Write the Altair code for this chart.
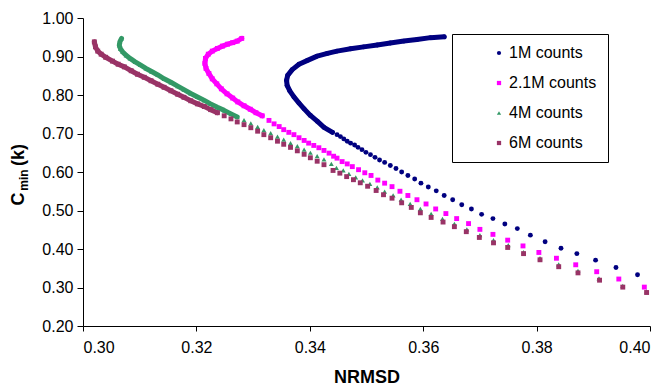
import altair as alt
import pandas as pd

SERIES = ["1M counts", "2.1M counts", "4M counts", "6M counts"]
COLORS = ["#000080", "#FF00FF", "#339966", "#993366"]
SHAPES = ["circle", "square", "triangle-up", "square"]

# 1M counts: dense (continuous-looking) arc, then separated dots
m1_arc_x = [0.3637, 0.3613, 0.3589, 0.3566, 0.3542, 0.3519, 0.3495, 0.3472, 0.3448, 0.3431,
            0.3413, 0.3396, 0.3381, 0.3369, 0.3361, 0.3359, 0.3360, 0.3365, 0.3372, 0.3381,
            0.3390, 0.3401, 0.3413, 0.3425, 0.3440]
m1_arc_y = [0.951, 0.949, 0.944, 0.940, 0.935, 0.930, 0.925, 0.920, 0.914, 0.908,
            0.901, 0.890, 0.880, 0.866, 0.851, 0.838, 0.825, 0.810, 0.795, 0.779,
            0.764, 0.747, 0.732, 0.716, 0.703]
m1_dot_x = [0.3448, 0.3454, 0.3460, 0.3466, 0.3472, 0.3479, 0.3485, 0.3492, 0.3499, 0.3507,
            0.3515, 0.3523, 0.3532, 0.3542, 0.3552, 0.3562, 0.3573, 0.3585, 0.3596, 0.3609,
            0.3623, 0.3637, 0.3652, 0.3668, 0.3685, 0.3703, 0.3723, 0.3744, 0.3766, 0.3789,
            0.3815, 0.3843, 0.3871, 0.3904, 0.3940, 0.3978]
m1_dot_y = [0.697, 0.692, 0.686, 0.680, 0.675, 0.670, 0.664, 0.658, 0.651, 0.645,
            0.638, 0.631, 0.625, 0.617, 0.609, 0.600, 0.591, 0.582, 0.571, 0.561,
            0.551, 0.539, 0.528, 0.515, 0.504, 0.490, 0.479, 0.465, 0.453, 0.436,
            0.419, 0.402, 0.388, 0.371, 0.352, 0.333]

# 2.1M counts
m21_arc_x = [0.3280, 0.3272, 0.3264, 0.3255, 0.3246, 0.3237, 0.3228, 0.3221, 0.3216, 0.3215,
             0.3217, 0.3222, 0.3228, 0.3236, 0.3244, 0.3254, 0.3264, 0.3273, 0.3284, 0.3295,
             0.3305, 0.3316]
m21_arc_y = [0.947, 0.940, 0.936, 0.932, 0.927, 0.921, 0.914, 0.906, 0.895, 0.882,
             0.869, 0.856, 0.842, 0.829, 0.816, 0.803, 0.792, 0.782, 0.772, 0.763,
             0.754, 0.746]
m21_dot_x = [0.3328, 0.3337, 0.3346, 0.3354, 0.3363, 0.3372, 0.3381, 0.3390, 0.3398, 0.3407,
             0.3416, 0.3425, 0.3434, 0.3442, 0.3448, 0.3457, 0.3466, 0.3475, 0.3486, 0.3497,
             0.3508, 0.3520, 0.3532, 0.3545, 0.3559, 0.3573, 0.3589, 0.3605, 0.3622, 0.3640,
             0.3659, 0.3680, 0.3700, 0.3723, 0.3749, 0.3776, 0.3804, 0.3835, 0.3869, 0.3906,
             0.3945, 0.3990]
m21_dot_y = [0.734, 0.725, 0.718, 0.710, 0.703, 0.697, 0.689, 0.682, 0.675, 0.669,
             0.663, 0.656, 0.649, 0.641, 0.636, 0.627, 0.621, 0.614, 0.606, 0.598,
             0.591, 0.579, 0.571, 0.562, 0.550, 0.539, 0.528, 0.517, 0.504, 0.492,
             0.479, 0.466, 0.451, 0.438, 0.423, 0.408, 0.391, 0.376, 0.359, 0.341,
             0.322, 0.301]

# 4M counts
m4_arc_x = [0.3068, 0.3065, 0.3064, 0.3066, 0.3070, 0.3076, 0.3083, 0.3092, 0.3101, 0.3111,
            0.3121, 0.3132, 0.3143, 0.3155, 0.3167, 0.3178, 0.3190, 0.3202, 0.3214, 0.3225,
            0.3237, 0.3249, 0.3261, 0.3272]
m4_arc_y = [0.947, 0.938, 0.929, 0.920, 0.912, 0.903, 0.895, 0.886, 0.878, 0.869,
            0.861, 0.852, 0.842, 0.833, 0.823, 0.814, 0.804, 0.795, 0.786, 0.777,
            0.768, 0.760, 0.751, 0.743]
m4_dot_x = [0.3284, 0.3296, 0.3308, 0.3319, 0.3331, 0.3343, 0.3354, 0.3366, 0.3378, 0.3390,
            0.3401, 0.3413, 0.3425, 0.3438, 0.3447, 0.3459, 0.3469, 0.3481, 0.3493, 0.3506,
            0.3519, 0.3532, 0.3547, 0.3561, 0.3577, 0.3595, 0.3614, 0.3634, 0.3655, 0.3677,
            0.3700, 0.3724, 0.3750, 0.3777, 0.3806, 0.3839, 0.3873, 0.3910, 0.3952, 0.3994]
m4_dot_y = [0.735, 0.726, 0.717, 0.709, 0.701, 0.692, 0.684, 0.675, 0.667, 0.658,
            0.650, 0.641, 0.633, 0.621, 0.611, 0.604, 0.595, 0.586, 0.578, 0.569,
            0.560, 0.549, 0.539, 0.528, 0.517, 0.504, 0.491, 0.478, 0.465, 0.451,
            0.436, 0.423, 0.410, 0.392, 0.376, 0.360, 0.343, 0.324, 0.304, 0.290]

# 6M counts
m6_arc_x = [0.3020, 0.3022, 0.3026, 0.3032, 0.3040, 0.3052, 0.3062, 0.3073, 0.3085, 0.3096,
            0.3108, 0.3120, 0.3132, 0.3143, 0.3155, 0.3167, 0.3178, 0.3190, 0.3202, 0.3214,
            0.3225, 0.3237]
m6_arc_y = [0.938, 0.925, 0.914, 0.906, 0.898, 0.888, 0.880, 0.873, 0.863, 0.854,
            0.846, 0.837, 0.828, 0.820, 0.811, 0.802, 0.794, 0.785, 0.777, 0.770,
            0.762, 0.754]
m6_dot_x = [0.3249, 0.3261, 0.3272, 0.3284, 0.3296, 0.3308, 0.3319, 0.3331, 0.3343, 0.3354,
            0.3366, 0.3378, 0.3390, 0.3401, 0.3413, 0.3425, 0.3441, 0.3453, 0.3465, 0.3477,
            0.3489, 0.3502, 0.3517, 0.3530, 0.3545, 0.3562, 0.3579, 0.3595, 0.3614, 0.3635,
            0.3655, 0.3676, 0.3699, 0.3724, 0.3749, 0.3777, 0.3806, 0.3839, 0.3873, 0.3911,
            0.3952, 0.3994]
m6_dot_y = [0.746, 0.738, 0.730, 0.723, 0.715, 0.706, 0.697, 0.689, 0.680, 0.672,
            0.664, 0.655, 0.646, 0.637, 0.628, 0.619, 0.604, 0.597, 0.588, 0.580,
            0.572, 0.563, 0.552, 0.541, 0.532, 0.520, 0.508, 0.494, 0.482, 0.470,
            0.458, 0.445, 0.430, 0.416, 0.404, 0.388, 0.372, 0.354, 0.338, 0.319,
            0.301, 0.287]

X_TICKS = [0.30, 0.32, 0.34, 0.36, 0.38, 0.40]
Y_TICKS = [0.20, 0.30, 0.40, 0.50, 0.60, 0.70, 0.80, 0.90, 1.00]

parts = [
    (SERIES[0], m1_arc_x, m1_arc_y, m1_dot_x, m1_dot_y),
    (SERIES[1], m21_arc_x, m21_arc_y, m21_dot_x, m21_dot_y),
    (SERIES[2], m4_arc_x, m4_arc_y, m4_dot_x, m4_dot_y),
    (SERIES[3], m6_arc_x, m6_arc_y, m6_dot_x, m6_dot_y),
]
rows = []
for name, ax, ay, dx, dy in parts:
    k = 0
    for x, y in zip(ax, ay):
        rows.append({"series": name, "x": x, "y": y, "part": "arc", "i": k}); k += 1
    for x, y in zip(dx, dy):
        rows.append({"series": name, "x": x, "y": y, "part": "dot", "i": k}); k += 1
df = pd.DataFrame(rows)

FONT = "Liberation Sans"

xenc = alt.X("x:Q", scale=alt.Scale(domain=[0.30, 0.40], nice=False, zero=False),
             axis=alt.Axis(values=X_TICKS, format=".2f", title="NRMSD", grid=False,
                           labelFontSize=16, titleFontSize=18, titleFontWeight="bold",
                           labelPadding=8, titlePadding=13, tickSize=5))
yenc = alt.Y("y:Q", scale=alt.Scale(domain=[0.20, 1.00], nice=False, zero=False),
             axis=alt.Axis(values=Y_TICKS, format=".2f", title=None, grid=False,
                           labelFontSize=16, labelPadding=4, tickSize=6))

legend = alt.Legend(title=None, orient="none", legendX=369, legendY=16,
                    strokeColor="#000", fillColor="#fff", padding=11,
                    symbolOffset=28, labelOffset=2, labelFontSize=16,
                    rowPadding=14, symbolSize=18, labelFont=FONT, labelColor="#000")

color_scale = alt.Scale(domain=SERIES, range=COLORS)
shape_scale = alt.Scale(domain=SERIES, range=SHAPES)

base = alt.Chart(df)

arc_layers = []
for name, col in zip(SERIES, COLORS):
    arc_layers.append(
        base.transform_filter(
            (alt.datum.part == "arc") & (alt.datum.series == name)
        ).mark_line(strokeWidth=5, strokeCap="round", strokeJoin="round", color=col)
        .encode(x=xenc, y=yenc, order="i:Q")
    )

points = base.mark_point(filled=True, size=24, opacity=1).encode(
    x=xenc, y=yenc,
    color=alt.Color("series:N", scale=color_scale, legend=legend),
    shape=alt.Shape("series:N", scale=shape_scale, legend=legend),
)

ytitle_c = alt.Chart().mark_text(angle=270, fontSize=18, fontWeight="bold", font=FONT,
                                 align="center", baseline="middle", color="#000").encode(
    x=alt.value(-64), y=alt.value(181), text=alt.value("C"))
ytitle_min = alt.Chart().mark_text(angle=270, fontSize=12, fontWeight="bold", font=FONT,
                                   align="center", baseline="middle", color="#000").encode(
    x=alt.value(-59), y=alt.value(162), text=alt.value("min"))
ytitle_k = alt.Chart().mark_text(angle=270, fontSize=18, fontWeight="bold", font=FONT,
                                 align="center", baseline="middle", color="#000").encode(
    x=alt.value(-64), y=alt.value(137), text=alt.value("(k)"))

chart = alt.layer(*arc_layers, points, ytitle_c, ytitle_min, ytitle_k).properties(
    width=567, height=308,
    autosize=alt.AutoSizeParams(type="none"),
    padding={"left": 83, "top": 18, "right": 13, "bottom": 63},
    background="#ffffff",
).configure_view(stroke=None).configure_axis(
    labelFont=FONT, titleFont=FONT, labelColor="#000", titleColor="#000",
    domainColor="#000", tickColor="#000", domainWidth=1, tickWidth=1,
)

chart.save("out.html", embed_options={"renderer": "svg", "actions": False})
